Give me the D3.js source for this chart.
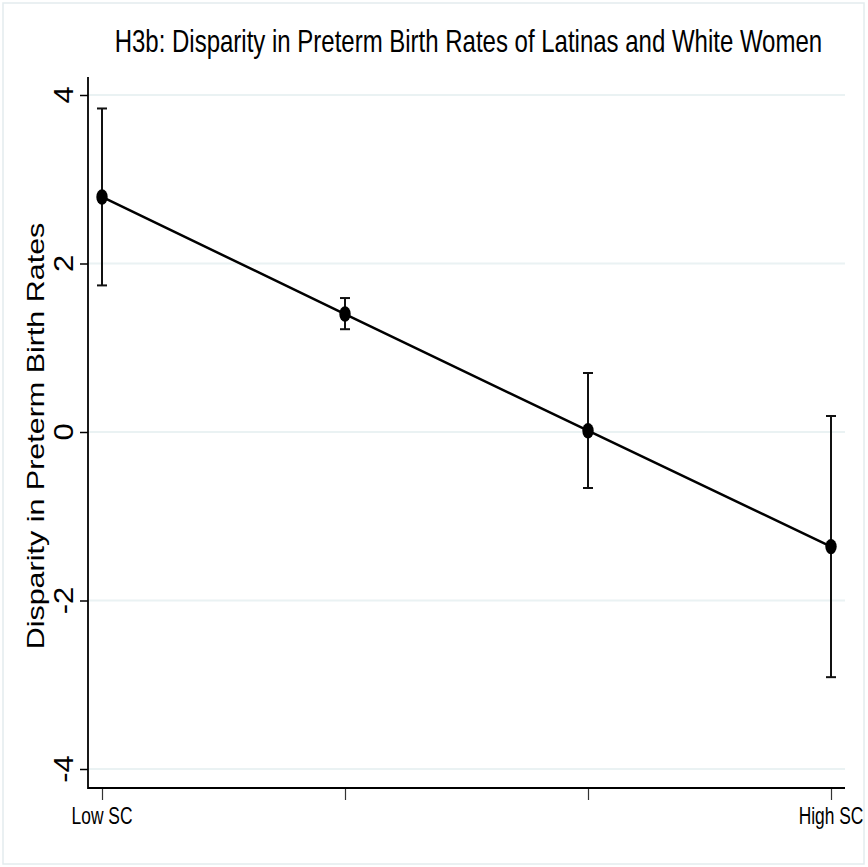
<!DOCTYPE html>
<html>
<head>
<meta charset="utf-8">
<script src="https://cdn.jsdelivr.net/npm/d3@7"></script>
<style>
  html, body { margin: 0; padding: 0; background: #ffffff; }
  svg { display: block; }
  text { font-family: "Liberation Sans", Arial, Helvetica, sans-serif; fill: #000; }
</style>
</head>
<body>
<svg id="chart" width="868" height="867"></svg>
<script>
// ---- data ----
const categories = [1, 2, 3, 4];
const xTickLabels = ["Low SC", "", "", "High SC"];
const estimates = [2.79, 1.40, 0.015, -1.36];
const lowerCI = [1.74, 1.22, -0.665, -2.91];
const upperCI = [3.84, 1.59, 0.70, 0.19];
const yTicks = [-4, -2, 0, 2, 4];
const titleText = "H3b: Disparity in Preterm Birth Rates of Latinas and White Women";
const yTitleText = "Disparity in Preterm Birth Rates";

// ---- layout ----
const W = 868, H = 867;
const plotLeft = 88, plotRight = 845, plotTop = 77, plotBottom = 788;

const svg = d3.select("#chart");

// outer border
svg.append("rect")
  .attr("x", 3).attr("y", 3).attr("width", 861).attr("height", 861)
  .attr("fill", "#ffffff").attr("stroke", "#e3ecee").attr("stroke-width", 1.5);

const x = d3.scalePoint().domain(categories).range([102, 831]);
const y = d3.scaleLinear().domain([-4, 4]).range([769, 95]);

// grid lines
svg.append("g").selectAll("line").data(yTicks).join("line")
  .attr("x1", plotLeft).attr("x2", plotRight)
  .attr("y1", d => y(d)).attr("y2", d => y(d))
  .attr("stroke", "#eaf2f3").attr("stroke-width", 2);

// y axis
const yAxis = d3.axisLeft(y).tickValues(yTicks).tickSize(8).tickFormat(d => "");
const gy = svg.append("g").attr("transform", `translate(${plotLeft},0)`).call(yAxis);
gy.select(".domain").remove();
gy.selectAll(".tick line").attr("stroke", "#000").attr("stroke-width", 1.5);
svg.append("line")
  .attr("x1", plotLeft).attr("x2", plotLeft).attr("y1", plotTop).attr("y2", plotBottom + 1)
  .attr("stroke", "#000").attr("stroke-width", 1.8);

// y tick labels (rotated)
svg.append("g").selectAll("text").data(yTicks).join("text")
  .attr("transform", d => `translate(73,${y(d)}) rotate(-90) scale(1.15,1)`)
  .attr("text-anchor", "middle")
  .attr("font-size", 27)
  .text(d => d3.format("d")(d).replace("−", "-"));

// x axis
const xAxis = d3.axisBottom(x).tickSize(12).tickFormat(d => "");
const gx = svg.append("g").attr("transform", `translate(0,${plotBottom})`).call(xAxis);
gx.select(".domain").remove();
gx.selectAll(".tick line").attr("stroke", "#333").attr("stroke-width", 1.2);
svg.append("line")
  .attr("x1", plotLeft).attr("x2", plotRight).attr("y1", plotBottom).attr("y2", plotBottom)
  .attr("stroke", "#000").attr("stroke-width", 1.8);

svg.append("g").selectAll("text").data(categories).join("text")
  .attr("transform", (d, i) => `translate(${x(d)},824) scale(0.74,1)`)
  .attr("text-anchor", "middle")
  .attr("font-size", 23.5)
  .text((d, i) => xTickLabels[i]);

// title
svg.append("text")
  .attr("transform", `translate(468.4,52.3) scale(0.75,1)`)
  .attr("text-anchor", "middle")
  .attr("font-size", 32)
  .text(titleText);

// y axis title
svg.append("text")
  .attr("transform", `translate(44,436) rotate(-90) scale(1.27,1)`)
  .attr("text-anchor", "middle")
  .attr("font-size", 24)
  .text(yTitleText);

// error bars
const eb = svg.append("g");
categories.forEach((c, i) => {
  const cx = x(c);
  eb.append("line")
    .attr("x1", cx).attr("x2", cx).attr("y1", y(upperCI[i])).attr("y2", y(lowerCI[i]))
    .attr("stroke", "#111").attr("stroke-width", 2);
  [upperCI[i], lowerCI[i]].forEach(v => {
    eb.append("line")
      .attr("x1", cx - 5).attr("x2", cx + 5).attr("y1", y(v)).attr("y2", y(v))
      .attr("stroke", "#111").attr("stroke-width", 2);
  });
});

// connecting line
const line = d3.line().x((d, i) => x(categories[i])).y(d => y(d));
svg.append("path").datum(estimates)
  .attr("d", line).attr("fill", "none").attr("stroke", "#000").attr("stroke-width", 2.5);

// markers
svg.append("g").selectAll("ellipse").data(estimates).join("ellipse")
  .attr("cx", (d, i) => x(categories[i])).attr("cy", d => y(d))
  .attr("rx", 5.7).attr("ry", 7.7).attr("fill", "#000");
</script>
</body>
</html>
